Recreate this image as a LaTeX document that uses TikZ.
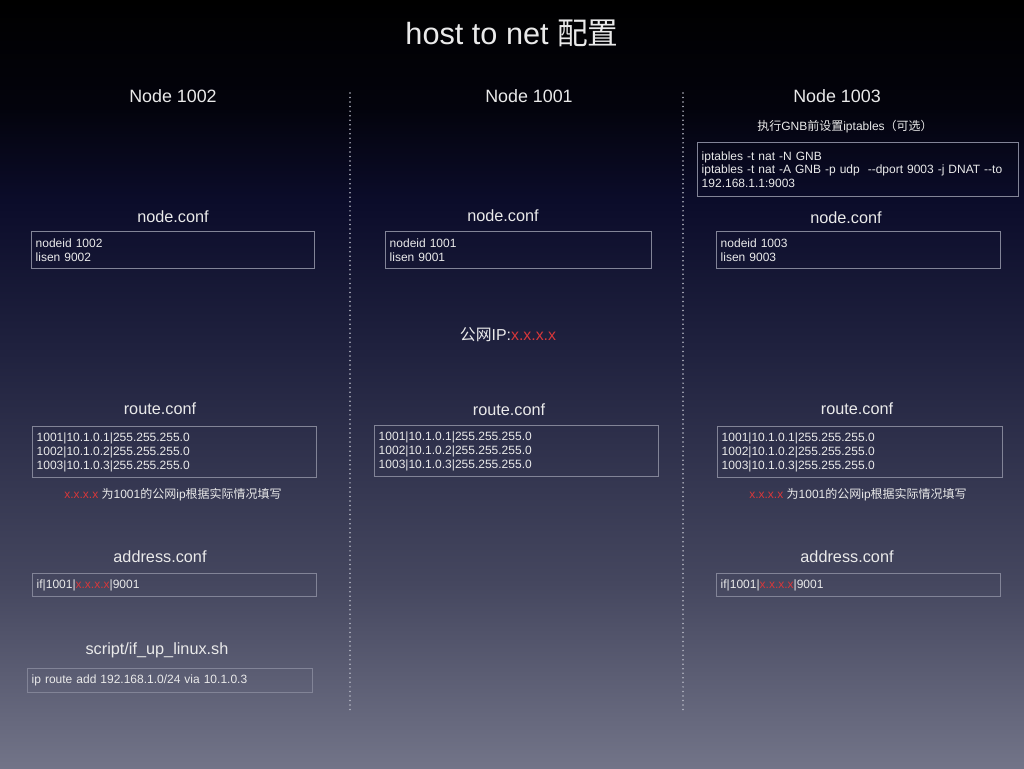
\documentclass[tikz,border=0pt]{standalone}
\usepackage{fontspec}
\setmainfont{Liberation Sans}
\newfontfamily\cjk{Noto Sans CJK SC}
\definecolor{bgA}{HTML}{000000}
\definecolor{bgB}{HTML}{03030C}
\definecolor{bgC}{HTML}{0B0C2A}
\definecolor{bgD}{HTML}{20223F}
\definecolor{bgE}{HTML}{45475F}
\definecolor{bgF}{HTML}{727488}
\definecolor{txt}{HTML}{EAEAEA}
\definecolor{boxc}{HTML}{828497}
\definecolor{redx}{HTML}{D8373A}
\definecolor{dotc}{HTML}{B8BAC6}
\pgfdeclareverticalshading{bgshade}{100bp}{color(0bp)=(bgF); color(25bp)=(bgF); color(37bp)=(bgE); color(52bp)=(bgD); color(62bp)=(bgC); color(68bp)=(bgB); color(75bp)=(bgA); color(100bp)=(bgA)}
\begin{document}
\begin{tikzpicture}[x=0.75pt,y=-0.75pt,
  title/.style={text=txt,font=\fontsize{23}{27}\selectfont,inner sep=0pt},
  colhead/.style={text=txt,font=\fontsize{13.4}{16}\selectfont,inner sep=0pt},
  sect/.style={text=txt,font=\fontsize{12.2}{15}\selectfont,inner sep=0pt},
  note/.style={text=txt,font=\fontsize{9}{11}\selectfont,inner sep=0pt},
  box/.style={draw=boxc,line width=0.7pt,text=txt,font=\fontsize{9}{10.5}\selectfont,
    align=left,inner xsep=3.2pt,inner ysep=0pt,anchor=north west},
  sep/.style={dotc,line width=1.3pt,line cap=round,dash pattern=on 0pt off 3.4pt}]
\useasboundingbox (0,0) rectangle (1024,768);
\shade[shading=bgshade] (0,0) rectangle (1024,768);

% title
\node[title] (title) at (512,33) {host to net {\cjk 配置}};

% column heads
\node[colhead] (h2) at (173,96) {Node 1002};
\node[colhead] (h1) at (529,96) {Node 1001};
\node[colhead] (h3) at (837,96) {Node 1003};

% separators
\coordinate (s1t) at (350,93); \coordinate (s1b) at (350,713);
\coordinate (s2t) at (683,93); \coordinate (s2b) at (683,713);
\draw[sep] (s1t) -- (s1b);
\draw[sep] (s2t) -- (s2b);

% iptables (node 1003)
\node[note] (iptl) at (845,127) {{\cjk 执行}GNB{\cjk 前设置}iptables{\cjk （可选）}};
\node[box,minimum width=240.75pt,text width=234.35pt,minimum height=40.5pt,
  font=\fontsize{9}{10}\selectfont,inner xsep=2pt] (ipt) at (697,142)
  {iptables -t nat -N GNB\\iptables -t nat -A GNB -p udp\ \ -{}-dport 9003 -j DNAT -{}-to\\192.168.1.1:9003};

% node.conf
\node[sect] (nl2) at (173,217) {node.conf};
\node[sect] (nl1) at (503,216) {node.conf};
\node[sect] (nl3) at (846,218) {node.conf};
\node[box,minimum width=212.25pt,text width=205.85pt,minimum height=27.75pt] (nc2) at (31,231) {nodeid 1002\\lisen 9002};
\node[box,minimum width=199.5pt,text width=193.1pt,minimum height=27.75pt] (nc1) at (385,231) {nodeid 1001\\lisen 9001};
\node[box,minimum width=213pt,text width=206.6pt,minimum height=27.75pt] (nc3) at (716,231) {nodeid 1003\\lisen 9003};

% public ip
\node[text=txt,font=\fontsize{11.9}{14}\selectfont,inner sep=0pt] (pip) at (508,335) {{\cjk 公网}IP:\textcolor{redx}{x.x.x.x}};

% route.conf
\node[sect] (rl2) at (160,409) {route.conf};
\node[sect] (rl1) at (509,410) {route.conf};
\node[sect] (rl3) at (857,409) {route.conf};
\node[box,minimum width=213pt,text width=206.6pt,minimum height=38.25pt] (rc2) at (32,426)
  {1001|10.1.0.1|255.255.255.0\\1002|10.1.0.2|255.255.255.0\\1003|10.1.0.3|255.255.255.0};
\node[box,minimum width=213pt,text width=206.6pt,minimum height=38.25pt] (rc1) at (374,425)
  {1001|10.1.0.1|255.255.255.0\\1002|10.1.0.2|255.255.255.0\\1003|10.1.0.3|255.255.255.0};
\node[box,minimum width=213.75pt,text width=207.35pt,minimum height=38.25pt] (rc3) at (717,426)
  {1001|10.1.0.1|255.255.255.0\\1002|10.1.0.2|255.255.255.0\\1003|10.1.0.3|255.255.255.0};

% notes
\node[note] (n2) at (173,495) {\textcolor{redx}{x.x.x.x} {\cjk 为}1001{\cjk 的公网}ip{\cjk 根据实际情况填写}};
\node[note] (n3) at (858,495) {\textcolor{redx}{x.x.x.x} {\cjk 为}1001{\cjk 的公网}ip{\cjk 根据实际情况填写}};

% address.conf
\node[sect] (al2) at (160,557) {address.conf};
\node[sect] (al3) at (847,557) {address.conf};
\node[box,minimum width=213pt,text width=206.6pt,minimum height=17.25pt] (ac2) at (32,573)
  {if|1001|\textcolor{redx}{x.x.x.x}|9001};
\node[box,minimum width=213pt,text width=206.6pt,minimum height=17.25pt] (ac3) at (716,573)
  {if|1001|\textcolor{redx}{x.x.x.x}|9001};

% script
\node[sect] (sl2) at (157,650) {script/if\_up\_linux.sh};
\node[box,minimum width=213.75pt,text width=207.35pt,minimum height=18pt] (sc2) at (27,668)
  {ip route add 192.168.1.0/24 via 10.1.0.3};
\end{tikzpicture}
\end{document}
